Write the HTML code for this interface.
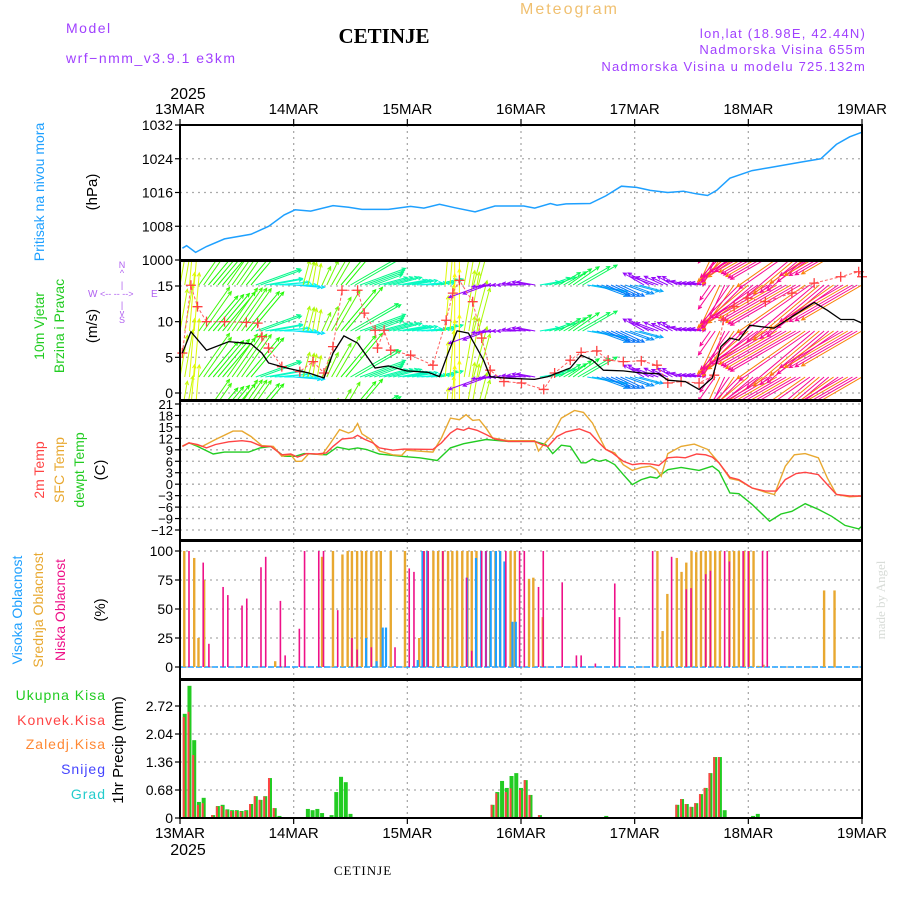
<!DOCTYPE html>
<html><head><meta charset="utf-8">
<style>
html,body{margin:0;padding:0;background:#fff;}
svg{display:block;font-family:"Liberation Sans",sans-serif;}
</style></head>
<body>
<svg id="chart" width="900" height="900" viewBox="0 0 900 900" xmlns="http://www.w3.org/2000/svg">
<defs>
<clipPath id="windClip"><rect x="181" y="262" width="680" height="138"/></clipPath>
</defs>
<g id="texts">
<text x="66" y="33" font-size="14" fill="#a040ff" letter-spacing="1.5">Model</text>
<text x="66" y="63" font-size="14" fill="#a040ff" letter-spacing="1.5">wrf−nmm_v3.9.1  e3km</text>
<text x="384" y="43" font-size="21" font-weight="bold" font-family="Liberation Serif,serif" text-anchor="middle">CETINJE</text>
<text x="520" y="14" font-size="16" fill="#f0c070" letter-spacing="2">Meteogram</text>
<text x="866" y="38" font-size="13" fill="#a040ff" text-anchor="end" letter-spacing="1.2">lon,lat (18.98E, 42.44N)</text>
<text x="866" y="54" font-size="13" fill="#a040ff" text-anchor="end" letter-spacing="1.2">Nadmorska Visina 655m</text>
<text x="866" y="71" font-size="13" fill="#a040ff" text-anchor="end" letter-spacing="1.2">Nadmorska Visina u modelu 725.132m</text>
<text x="188" y="99" font-size="16" text-anchor="middle">2025</text>
<text x="188" y="855" font-size="16" text-anchor="middle">2025</text>
<text x="363" y="875" font-size="13" font-family="Liberation Serif,serif" text-anchor="middle" letter-spacing="1">CETINJE</text>
<text transform="translate(885,600) rotate(-90)" font-size="13" fill="#d8dcd8" text-anchor="middle" font-family="Liberation Serif,serif">made by Angel</text>

<text transform="translate(44,192) rotate(-90)" font-size="14" fill="#1ea0ff" text-anchor="middle">Pritisak na nivou mora</text>
<text transform="translate(97,192) rotate(-90)" font-size="15" text-anchor="middle">(hPa)</text>

<text transform="translate(44,326) rotate(-90)" font-size="14" fill="#22cc22" text-anchor="middle">10m Vjetar</text>
<text transform="translate(64,326) rotate(-90)" font-size="14" fill="#22cc22" text-anchor="middle">Brzina i Pravac</text>
<text transform="translate(97,326) rotate(-90)" font-size="15" text-anchor="middle">(m/s)</text>
<g fill="#b060f0" font-size="9">
<text x="122" y="268" text-anchor="middle">N</text>
<text x="122" y="276" text-anchor="middle">^</text>
<text x="122" y="288" text-anchor="middle">|</text>
<text x="88" y="297" font-size="10">W</text>
<text x="100" y="297">&lt;-- -- --&gt;</text>
<text x="151" y="297" font-size="10">E</text>
<text x="122" y="308" text-anchor="middle">|</text>
<text x="122" y="316" text-anchor="middle">v</text>
<text x="122" y="323" text-anchor="middle">S</text>
</g>

<text transform="translate(44,470) rotate(-90)" font-size="14" fill="#ff4444" text-anchor="middle">2m Temp</text>
<text transform="translate(64,470) rotate(-90)" font-size="14" fill="#e8a830" text-anchor="middle">SFC Temp</text>
<text transform="translate(84,470) rotate(-90)" font-size="14" fill="#22cc22" text-anchor="middle">dewpt Temp</text>
<text transform="translate(105,470) rotate(-90)" font-size="15" text-anchor="middle">(C)</text>

<text transform="translate(22,610) rotate(-90)" font-size="14" fill="#1ea0ff" text-anchor="middle">Visoka Oblacnost</text>
<text transform="translate(43,610) rotate(-90)" font-size="14" fill="#e8a830" text-anchor="middle">Srednja Oblacnost</text>
<text transform="translate(65,610) rotate(-90)" font-size="14" fill="#ee1188" text-anchor="middle">Niska Oblacnost</text>
<text transform="translate(105,610) rotate(-90)" font-size="15" text-anchor="middle">(%)</text>

<g font-size="14" text-anchor="end" letter-spacing="1">
<text x="106" y="700" fill="#22cc22">Ukupna  Kisa</text>
<text x="106" y="725" fill="#ff4444">Konvek.Kisa</text>
<text x="106" y="749" fill="#ff8833">Zaledj.Kisa</text>
<text x="106" y="774" fill="#4444ff">Snijeg</text>
<text x="106" y="799" fill="#22cccc">Grad</text>
</g>
<text transform="translate(123,750) rotate(-90)" font-size="15" text-anchor="middle">1hr Precip (mm)</text>
</g>
<g id="plot"></g>
</svg>
<script>
// ---------- data ----------
const dayLabels = ["13MAR","14MAR","15MAR","16MAR","17MAR","18MAR","19MAR"];
const pressHours = [0.5,1.4,3.3,5.6,9.4,15,18.7,22,24.3,27.6,32.3,35.6,38.4,44,48.7,51.5,54.8,58,62.3,66.5,72.6,74.9,78.2,79.6,81.5,86.6,89.9,93.2,96.4,99.3,103,106.3,109,111.4,113.3,116.1,120.8,124.5,131.1,135.3,138.6,141.4,144];
const pressVals = [1002.8,1003.4,1001.8,1003.2,1005,1006.1,1008,1010.7,1011.9,1011.6,1012.9,1012.5,1012,1012,1012.7,1012.3,1013.2,1012.4,1011.4,1012.8,1012.8,1012.3,1013.4,1013,1013.3,1013.4,1015.2,1017.5,1017.2,1016.5,1016,1016.3,1015.7,1015.3,1016.5,1019.4,1021.2,1021.9,1023.2,1024,1027.4,1029.2,1030.3];
const pressTicks = [1000,1008,1016,1024,1032];

const windHours = [0.5,2.3,5.6,10.3,15,17.3,18.7,22.5,27.2,30.4,32.3,34.6,37.5,41.2,44,47.8,52.4,54.8,56.6,58.5,60.9,64.1,65.5,68.4,74.9,77.7,82.4,84.7,87.1,89.4,93.6,97.4,101.1,103,106.7,109.6,112.4,114.2,116.1,118,120.3,122.7,125.5,129.2,133.9,136.7,139.5,142.3,144];
const windSpeed = [5.6,8.6,6.0,7.2,6.9,5.6,4.2,3.5,2.8,2.1,5.6,8.0,7.0,3.5,3.8,3.1,2.9,2.3,5.6,8.7,8.4,4.6,2.3,2.1,1.9,2.3,3.5,5.3,4.6,3.2,3.1,2.8,2.7,1.8,1.6,0.5,2.1,6.5,7.7,7.4,9.5,9.3,9.1,10.7,12.7,11.6,10.3,10.3,9.8];
const gustHours = [0.5,2.3,3.7,5.6,9.4,14,16.4,17.3,18.7,21.5,25.3,28.1,30.4,32.3,34.2,37.5,38.9,41.2,41.7,43.1,44.5,48.7,53.4,56.2,57.6,59,61.8,63.7,65.5,68.4,72.1,76.8,79.1,82.4,84.7,88,90.4,93.6,97.4,100.7,103,105.8,109.6,112.8,114.7,117,119.9,123.6,129.2,133.9,139.5,143.3,144];
const gustVals = [5.6,15.1,12.1,10.0,10.0,9.9,9.8,7.9,6.3,3.7,3.0,4.4,2.8,6.5,14.4,14.4,11.2,8.8,6.3,8.8,6.0,5.3,3.9,10.2,14.0,15.8,12.8,7.7,3.2,1.6,1.4,0.5,2.8,4.6,5.7,5.9,4.6,4.4,4.5,3.9,1.4,1.6,1.4,2.5,10.2,12.1,13.3,12.8,14.0,15.4,16.3,17.0,16.3];
// wind direction (degrees, direction arrow points to) every 2 hours
const windDir = [10,5,35,40,40,35,35,40,70,80,85,90,95,15,10,25,30,40,60,70,70,75,75,80,80,85,85,75,5,0,10,15,250,265,270,270,275,280,80,70,60,55,60,100,110,115,115,110,105,300,290,295,300,285,280,280,215,205,215,225,230,235,240,240,240,240,235,230,230,235,240,240,240];
const windTicks = [0,5,10,15];

const tempTicks = [21,18,15,12,9,6,3,0,-3,-6,-9,-12];
const t2Hours = [0.5,1.9,3.7,5.6,7.5,10.3,13.1,15,17.3,19.2,21.5,23.4,24.8,26.7,29,30.9,32.3,34.2,36.5,37.5,38.9,40.7,42.1,44.9,47.3,53.4,55.2,57.1,58.5,59.9,60.9,62.7,64.6,66.5,69.3,74.9,76.3,77.7,79.6,81.5,84.3,86.6,88.5,89.9,91.3,93.6,95.5,97.4,99.3,101.1,103,104.9,106.7,109.1,111,112.4,113.8,116.1,118,120.8,123.6,125.9,127.8,130.1,132,134.8,136.7,138.6,141.4,144];
const t2Vals = [9.9,10.8,10.4,9.5,10.4,11.1,11.4,11.1,9.9,9.9,7.7,7.9,7.1,8.0,7.9,8.2,9.9,11.8,12.1,12.8,11.8,10.8,9.5,8.9,9.2,9.1,10.8,13.4,14.5,14.1,14.7,14.1,13.0,11.8,11.2,11.2,10.4,9.9,12.5,13.7,14.5,13.4,10.8,9.1,8.2,6.0,5.1,5.4,5.3,4.9,6.9,7.1,6.9,7.9,7.7,7.1,5.6,1.8,1.2,-1.0,-1.8,-1.8,1.2,2.8,3.1,2.5,-0.1,-2.7,-3.1,-3.1];
const sfcHours = [0.5,1.9,4.7,7.5,11.2,13.1,15,17.3,19.7,21.5,23.4,24.5,25.7,27.2,30,31.8,33.7,35.6,36.5,37.5,38.4,40.3,42.1,44.9,46.8,47.8,53.4,55.2,57.1,59,60.4,61.8,63.2,64.6,66,69.3,74.9,75.7,76.8,78.7,80.5,83.3,85.2,87.1,88.5,89.9,91.8,93.6,95.5,97.4,99.3,100.7,101.6,103,105.8,108.6,111.4,113.8,116.1,118,120.8,123.6,125.5,127.8,129.7,132,134.8,136.7,138.6,141.4,144];
const sfcVals = [10,10.8,9.9,11.7,13.9,13.9,12.5,10.1,9.9,7.3,7.7,6.0,6.0,8.0,7.7,10.8,14.3,13.4,13.9,15.9,13.2,11.7,8.7,7.7,7.5,8.9,8.4,12.1,17.3,16.9,18.2,16.7,16.9,14.7,12.1,11.4,11.4,8.7,10.4,13.0,17.3,19.3,18.8,16.0,12.5,9.1,8.2,5.1,3.6,4.4,4.7,3.8,2.1,8.0,9.9,10.5,9.1,5.6,1.5,1.0,-1.0,-2.1,-2.7,4.7,7.7,8.0,6.9,1.6,-2.7,-3.3,-3.1];
const dewHours = [0.5,1.9,3.7,7,9.4,14.5,16.9,19.2,22,24.3,26.2,30.9,33.2,35.6,37.5,39.3,42.1,46.8,50.6,54.3,57.1,59.9,64.6,69.3,74.9,77.2,78.7,80.5,82.4,84.7,85.7,87.1,88.5,89.9,91.8,93.6,95.5,97.4,99.3,100.7,101.6,103,105.8,109.6,112.4,113.8,116.1,118,120.8,124.5,126.9,129.2,132,134.8,137.6,140.4,143.3,144];
const dewVals = [9.9,10.8,9.9,7.9,8.4,8.4,9.5,9.9,7.3,7.3,8.0,7.7,9.7,9.1,9.5,9.1,7.9,7.3,6.9,6.2,9.5,10.6,11.7,11.2,11.2,10.4,8.0,10.2,9.9,5.6,5.6,6.6,6.0,6.4,5.1,2.5,-0.1,1.2,1.9,1.6,2.5,3.8,4.4,3.6,4.7,3.4,-2.3,-2.5,-5.3,-9.7,-7.8,-7.1,-5.1,-6.6,-8.4,-10.8,-11.7,-11];

const cloudTicks = [0,25,50,75,100];
const lowHours = [1.9,4.9,6.1,9.1,10.1,13.1,14.1,17.1,18.1,21.2,22.2,25.2,26.3,29.3,30.3,33.3,36.3,37.4,40.4,45.4,48.4,49.4,51.5,52.4,55.5,60.5,61.6,63.7,64.6,68.8,71.7,72.7,75.7,76.7,80.7,83.7,84.7,87.7,91.8,92.8,99.8,103.8,106.9,107.9,111,112,115,116,118.9,120,123,124];
const lowVals = [100,90,20,69,62,53,59,86,95,57,10,33,100,100,100,49,25,15,17,17,85,82,100,100,100,77,14,100,100,100,100,100,69,100,73,10,10,3,72,43,100,95,67,68,80,83,100,91,100,100,100,100];
const midHours = [0.9,3,3.9,5.1,20.1,30,32.3,34.3,35.4,36.3,37.4,38.4,39.3,40.4,41.5,42.4,44.5,47.5,50.5,51.5,53.5,54.5,55.5,56.6,57.5,58.5,59.6,60.7,61.6,62.6,65.5,66.6,67.6,69.8,70.7,73.7,74.6,76.6,100.8,101.9,102.9,104.9,105.9,106.9,108,109,110,111,112,113,114,116,117,118,119.1,120.1,121.1,122.1,123.2,136,138.2];
const midVals = [100,94,25,75,5,95,100,97,100,100,100,100,100,100,100,100,100,100,25,100,100,100,100,100,100,100,100,100,100,100,100,100,100,100,100,76,77,43,100,31,63,94,82,90,100,99,100,100,100,100,100,100,100,100,100,100,100,1,2,66,66];
const highHours = [39.3,41.5,42.8,43.5,50.2,51.2,52.2,60.6,62.5,63.6,64.6,65.6,66.7,67.6,68.5,70.2,70.9];
const highVals = [25,5,34,34,6,100,100,77,94,100,100,100,100,100,91,39,39];

const precipTicks = [0,0.68,1.36,2.04,2.72];
const precipHours = [1,2,3,4,5,7,8,9,10,11,12,13,14,15,16,17,18,19,20,21,27,28,29,30,32,33,34,35,36,66,67,68,69,70,71,72,73,74,76,90,105,106,107,108,109,110,111,112,113,114,115,121,122];
const totalPrecip = [2.53,3.21,1.89,0.39,0.49,0.07,0.29,0.32,0.21,0.19,0.19,0.17,0.19,0.34,0.53,0.44,0.53,0.97,0.24,0.05,0.22,0.19,0.22,0.12,0.07,0.63,1.0,0.87,0.1,0.32,0.63,0.9,0.73,1.02,1.09,0.73,0.92,0.56,0.07,0.05,0.32,0.46,0.34,0.27,0.36,0.58,0.73,1.09,1.48,1.48,0.19,0.05,0.1];
const convPrecip = [2.45,2.58,1.53,0.32,0.36,0.07,0.28,0.29,0.19,0.17,0.17,0.15,0.17,0.34,0.53,0.44,0.52,0.97,0.24,0,0,0,0,0,0,0,0,0,0,0.32,0.6,0,0.63,0.72,0,0.68,0.92,0.56,0.07,0,0.32,0.46,0.34,0.27,0.36,0.58,0.73,1.09,1.48,1.48,0,0,0];

// ---------- scales ----------
const L = 180, R = 862, HMAX = 144;
const X = h => L + h * (R - L) / HMAX;
const lin = (d0, d1, r0, r1) => v => r0 + (v - d0) * (r1 - r0) / (d1 - d0);
const yP = lin(1000, 1032, 260, 125);
const yW = lin(0, 15, 393, 286);
const yT = lin(21, -12, 404, 530);
const yC = lin(0, 100, 667, 551);
const yR = lin(0, 2.72, 818, 706);

const NS = "http://www.w3.org/2000/svg";
const plot = document.getElementById("plot");
function el(tag, attrs, parent) {
  const e = document.createElementNS(NS, tag);
  for (const k in attrs) e.setAttribute(k, attrs[k]);
  (parent || plot).appendChild(e);
  return e;
}
function pathFrom(hs, vs, yf) {
  return hs.map((h, i) => (i ? "L" : "M") + X(h).toFixed(1) + "," + yf(vs[i]).toFixed(1)).join("");
}

const panels = [
  {name: "pressure", top: 125, bot: 260, ticks: pressTicks, yf: yP, fmt: v => v},
  {name: "wind", top: 261, bot: 400, ticks: windTicks, yf: yW, fmt: v => v},
  {name: "temp", top: 401, bot: 540, ticks: tempTicks, yf: yT, fmt: v => v < 0 ? "−" + (-v) : v},
  {name: "cloud", top: 541, bot: 679, ticks: cloudTicks, yf: yC, fmt: v => v},
  {name: "precip", top: 680, bot: 818, ticks: precipTicks, yf: yR, fmt: v => v === 0 ? "0" : v.toFixed(2)}
];

// grid
panels.forEach(p => {
  const g = el("g", {});
  
  
  for (let d = 1; d < 6; d++) {
    const ln = el("line", {x1: X(d * 24), x2: X(d * 24), y1: p.top, y2: p.bot, stroke: "#aaa", "stroke-width": 1.3, "stroke-dasharray": "2,4"}, g);
    
    
  }
  p.ticks.forEach(t => {
    const y = p.yf(t);
    if (y > p.top + 1 && y < p.bot - 1) {
      const ln = el("line", {x1: L, x2: R, y1: y, y2: y, stroke: "#aaa", "stroke-width": 1.3, "stroke-dasharray": "2,4"}, g);
      
      
    }
  });
});

// pressure
const pl = el("path", {d: pathFrom(pressHours, pressVals, yP), fill: "none", stroke: "#1ea0ff", "stroke-width": 1.5});



// wind arrows
function interp(hs, vs, h) {
  if (h <= hs[0]) return vs[0];
  for (let i = 1; i < hs.length; i++) if (h <= hs[i]) return vs[i - 1] + (vs[i] - vs[i - 1]) * (h - hs[i - 1]) / (hs[i] - hs[i - 1]);
  return vs[vs.length - 1];
}
function dirHue(d, h) {
  if (d >= 250) return 275;
  if (d >= 200) return (h % 3 === 0) ? 30 : 325;
  return 60 + d * 1.33;
}
const wg = el("g", {"clip-path": "url(#windClip)"});


const rows = [239, 285, 331, 377, 423];
for (let h = 0; h <= HMAX; h++) {
  const d = windDir[Math.min(windDir.length - 1, Math.floor(h / 2))];
  const sp = Math.max(interp(windHours, windSpeed, h), 1.2);
  const len = sp * 6.5 + 6;
  const a = d * Math.PI / 180;
  const dx = len * Math.sin(a), dy = -len * Math.cos(a);
  const col = "hsl(" + dirHue(d, h) + ",95%,50%)";
  rows.forEach(ry => {
    const x0 = X(h), x1 = x0 + dx, y1 = ry + dy;
    const ar = el("path", {d: "M" + x0.toFixed(1) + "," + ry + "L" + x1.toFixed(1) + "," + y1.toFixed(1) +
      "M" + (x1 - 4 * Math.sin(a - 0.45)).toFixed(1) + "," + (y1 + 4 * Math.cos(a - 0.45)).toFixed(1) + "L" + x1.toFixed(1) + "," + y1.toFixed(1) +
      "L" + (x1 - 4 * Math.sin(a + 0.45)).toFixed(1) + "," + (y1 + 4 * Math.cos(a + 0.45)).toFixed(1),
      fill: "none", stroke: col, "stroke-width": 1}, wg);
    
    
  });
}
const gl = el("path", {d: pathFrom(gustHours, gustVals, yW), fill: "none", stroke: "#ff6060", "stroke-width": 1, "stroke-dasharray": "3,2"});


gustHours.forEach((h, i) => {
  const x = X(h), y = yW(gustVals[i]);
  const m = el("path", {d: `M${x - 5},${y}h10M${x},${y - 5}v10`, stroke: "#ff4040", "stroke-width": 1.3});
  
  
});
const wl = el("path", {d: pathFrom(windHours, windSpeed, yW), fill: "none", stroke: "#000", "stroke-width": 1.3});



// temperatures
[[dewHours, dewVals, "#22cc22", "dewpoint-line"], [sfcHours, sfcVals, "#e8a830", "sfc-temp-line"], [t2Hours, t2Vals, "#ff4444", "temp-2m-line"]].forEach(s => {
  const p = el("path", {d: pathFrom(s[0], s[1], yT), fill: "none", stroke: s[2], "stroke-width": 1.4});
  
  
});

// clouds
const zl = el("line", {x1: L, x2: R, y1: yC(0), y2: yC(0), stroke: "#1ea0ff", "stroke-width": 1.5, "stroke-dasharray": "6,2"});


[[midHours, midVals, "#e8a830", 2.4, "cloud-mid-bar"], [highHours, highVals, "#1ea0ff", 2.2, "cloud-high-bar"], [lowHours, lowVals, "#ee1188", 1.6, "cloud-low-bar"]].forEach(s => {
  s[0].forEach((h, i) => {
    const y = yC(s[1][i]);
    const b = el("rect", {x: X(h) - s[3] / 2, y: y, width: s[3], height: yC(0) - y, fill: s[2]});
    
    
  });
});

// precip
precipHours.forEach((h, i) => {
  const x = X(h);
  const y = yR(totalPrecip[i]);
  const b = el("rect", {x: x - 2, y: y, width: 4, height: yR(0) - y, fill: "#22cc22"});
  
  
  if (convPrecip[i] > 0) {
    const yc = yR(convPrecip[i]);
    const c = el("rect", {x: x - 2, y: yc, width: 2, height: yR(0) - yc, fill: "#ff4444"});
    
    
  }
});

// frames, ticks, labels
panels.forEach(p => {
  const f = el("rect", {x: L, y: p.top, width: R - L, height: p.bot - p.top, fill: "none", stroke: "#000", "stroke-width": 2});
  
  
  p.ticks.forEach(t => {
    const y = p.yf(t);
    const tk = el("line", {x1: L - 5, x2: L, y1: y, y2: y, stroke: "#000", "stroke-width": 1.2});
    
    
    const tx = el("text", {x: L - 7, y: y + 5, "font-size": p.name === "temp" ? 13 : 14, "text-anchor": "end"});
    tx.textContent = p.fmt(t);
    
    
  });
});
dayLabels.forEach((d, i) => {
  const x = X(i * 24);
  const t1 = el("text", {x: x, y: 114, "font-size": 15, "text-anchor": "middle"});
  t1.textContent = d;
  
  
  const t2 = el("text", {x: x, y: 838, "font-size": 15, "text-anchor": "middle"});
  t2.textContent = d;
  
  
  const k1 = el("line", {x1: x, x2: x, y1: 119, y2: 125, stroke: "#000", "stroke-width": 1.2});
  
  
  const k2 = el("line", {x1: x, x2: x, y1: 818, y2: 824, stroke: "#000", "stroke-width": 1.2});
  
  
});
</script>
</body></html>
